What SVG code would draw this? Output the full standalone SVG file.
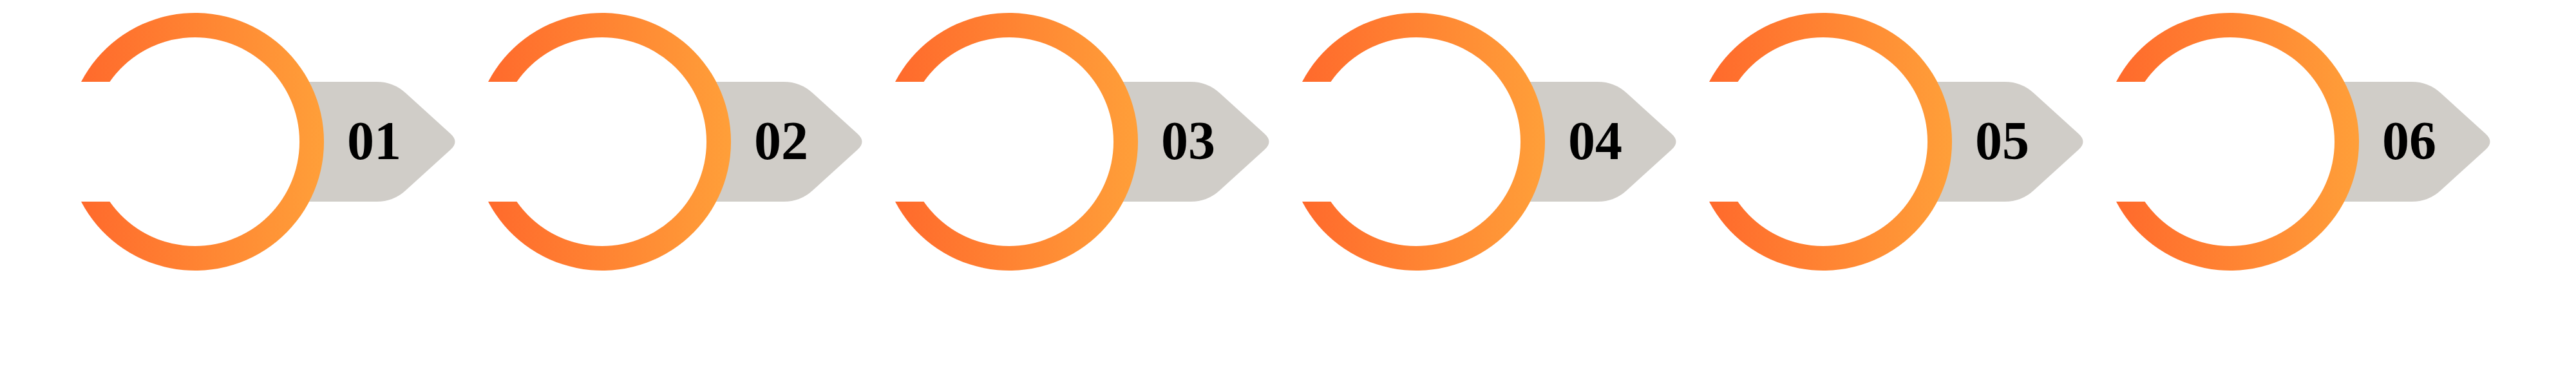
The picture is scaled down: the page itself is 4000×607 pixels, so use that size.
<svg xmlns="http://www.w3.org/2000/svg" xmlns:xlink="http://www.w3.org/1999/xlink" width="4000" height="607" viewBox="0 0 4000 607">
  <style>
    .tab { fill: #D0CDC8; }
    .num { font-family: "Liberation Serif", "Times New Roman", serif; font-weight: bold; font-size: 84px; fill: #000000; }
  </style>
  <defs>
    <linearGradient id="ringGrad" x1="0" y1="0" x2="1" y2="0">
      <stop offset="0" stop-color="#FF6A2C"/>
      <stop offset="1" stop-color="#FF9F39"/>
    </linearGradient>
    <path id="tabShape" class="tab" d="M 470,127 H 585 Q 611,127 630,144.5 L 700,208 Q 713,220 700,232 L 630,295.5 Q 611,313 585,313 H 470 Z"/>
    <path id="ringShape" fill="url(#ringGrad)" d="M 126,127 A 200 200 0 1 1 126,313 L 170.4,313 A 162 162 0 1 0 170.4,127 Z"/>
  </defs>
  <rect width="4000" height="607" fill="#FFFFFF"/>
  <g id="step-01">
    <use xlink:href="#tabShape"/>
    <use xlink:href="#ringShape"/>
    <text class="num" x="539" y="247">01</text>
  </g>
  <g id="step-02" transform="translate(632,0)">
    <use xlink:href="#tabShape"/>
    <use xlink:href="#ringShape"/>
    <text class="num" x="539" y="247">02</text>
  </g>
  <g id="step-03" transform="translate(1264,0)">
    <use xlink:href="#tabShape"/>
    <use xlink:href="#ringShape"/>
    <text class="num" x="539" y="247">03</text>
  </g>
  <g id="step-04" transform="translate(1896,0)">
    <use xlink:href="#tabShape"/>
    <use xlink:href="#ringShape"/>
    <text class="num" x="539" y="247">04</text>
  </g>
  <g id="step-05" transform="translate(2528,0)">
    <use xlink:href="#tabShape"/>
    <use xlink:href="#ringShape"/>
    <text class="num" x="539" y="247">05</text>
  </g>
  <g id="step-06" transform="translate(3160,0)">
    <use xlink:href="#tabShape"/>
    <use xlink:href="#ringShape"/>
    <text class="num" x="539" y="247">06</text>
  </g>
</svg>
